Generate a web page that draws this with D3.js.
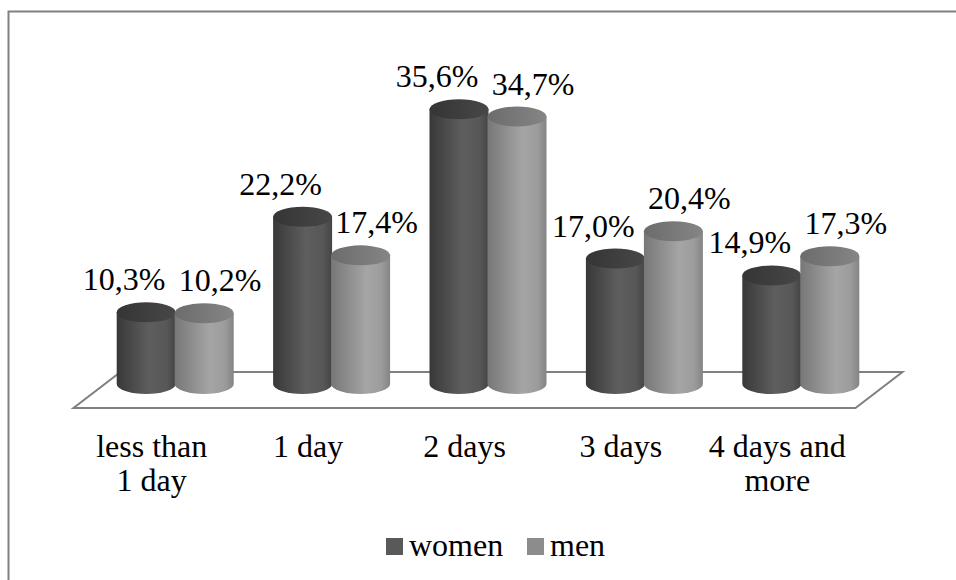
<!DOCTYPE html>
<html>
<head>
<meta charset="utf-8">
<script src="https://cdn.jsdelivr.net/npm/d3@7/dist/d3.min.js"></script>
<style>
  html, body { margin: 0; padding: 0; background: #fff; }
  svg { display: block; }
</style>
</head>
<body>
<svg id="chart" width="956" height="580"></svg>
<script>
// Categories (two-line labels) and the two series, in percent
const categories = [["less than", "1 day"], ["1 day"], ["2 days"], ["3 days"], ["4 days and", "more"]];
const seriesNames = ["women", "men"];
const women = [10.3, 22.2, 35.6, 17.0, 14.9];
const men   = [10.2, 17.4, 34.7, 20.4, 17.3];
const seriesValues = [women, men];

const FONT = "'Liberation Serif', 'Times New Roman', Tinos, 'DejaVu Serif', serif";
const FS = 32;
const svg = d3.select("#chart")
  .attr("font-family", FONT)
  .style("font-family", FONT);

// Outer chart frame (runs past the right and bottom of the view)
svg.append("rect")
  .attr("x", 8.5).attr("y", 11.5)
  .attr("width", 960).attr("height", 600)
  .attr("fill", "#fff").attr("stroke", "#808080").attr("stroke-width", 2);

// Scales
const x = d3.scaleBand().domain(d3.range(categories.length)).range([97, 879]);
const inner = d3.scaleBand().domain(d3.range(seriesNames.length)).range([0, 116]);
const y = d3.scaleLinear().domain([0, 40]).range([395, 74]);

// 3D projection of the floor
const floorFront = 408, floorBack = 372, depthDx = 47;
const [x0, x1] = x.range();
const floorPts = [
  [x0 - depthDx / 2, floorFront], [x1 - depthDx / 2, floorFront],
  [x1 + depthDx / 2, floorBack], [x0 + depthDx / 2, floorBack]
];
svg.append("path")
  .attr("d", "M" + floorPts.map(p => p.join(",")).join("L") + "Z")
  .attr("fill", "#fff").attr("stroke", "#808080").attr("stroke-width", 2)
  .attr("stroke-linejoin", "miter");

// Gradients for the cylinder bodies and tops
const defs = svg.append("defs");
const bodyStops = [
  [["0", "#383838"], ["0.55", "#5e5e5e"], ["0.85", "#575757"], ["1", "#444444"]],
  [["0", "#777777"], ["0.6", "#a5a5a5"], ["0.85", "#9c9c9c"], ["1", "#848484"]]
];
const topStops = [
  [["0", "#353535"], ["1", "#474747"]],
  [["0", "#6c6c6c"], ["1", "#858585"]]
];
bodyStops.forEach((stops, i) => {
  const g = defs.append("linearGradient").attr("id", "body" + i)
    .attr("x1", 0).attr("x2", 1).attr("y1", 0).attr("y2", 0);
  stops.forEach(s => g.append("stop").attr("offset", s[0]).attr("stop-color", s[1]));
});
topStops.forEach((stops, i) => {
  const g = defs.append("linearGradient").attr("id", "top" + i)
    .attr("x1", 0).attr("x2", 1).attr("y1", 0).attr("y2", 0);
  stops.forEach(s => g.append("stop").attr("offset", s[0]).attr("stop-color", s[1]));
});

// Centre of a series' cylinder within its category
const cylX = (ci, si) => x(ci) + x.bandwidth() / 2 - 58 + inner(si) + inner.bandwidth() / 2;

// Cylinders
const r = inner.bandwidth() / 2 + 0.5;
const ry = 10;
const baseY = y(0) - 11;
const cyl = svg.append("g");
categories.forEach((c, ci) => {
  seriesValues.forEach((vals, si) => {
    const cx = cylX(ci, si);
    const yt = y(vals[ci]);
    const g = cyl.append("g");
    g.append("path")
      .attr("d", `M${cx - r},${yt} L${cx - r},${baseY} A${r},${ry} 0 0 0 ${cx + r},${baseY} L${cx + r},${yt} Z`)
      .attr("fill", `url(#body${si})`);
    g.append("ellipse")
      .attr("cx", cx).attr("cy", yt).attr("rx", r).attr("ry", ry)
      .attr("fill", `url(#top${si})`);
  });
});

// Value labels
const labelDx = [-22, 16];
const fmt = v => d3.format(".1f")(v).replace(".", ",") + "%";
categories.forEach((c, ci) => {
  seriesValues.forEach((vals, si) => {
    svg.append("text")
      .attr("x", cylX(ci, si) + labelDx[si])
      .attr("y", y(vals[ci]) - 22)
      .attr("text-anchor", "middle")
      .attr("font-size", FS)
      .attr("fill", "#000")
      .text(fmt(vals[ci]));
  });
});

// Category labels along the floor's front edge
categories.forEach((lines, ci) => {
  const lx = x(ci) + x.bandwidth() / 2 - depthDx / 2;
  const t = svg.append("text")
    .attr("x", lx).attr("y", 457)
    .attr("text-anchor", "middle")
    .attr("font-size", FS)
    .attr("fill", "#000");
  lines.forEach((ln, li) => {
    t.append("tspan").attr("x", lx).attr("dy", li === 0 ? 0 : 34).text(ln);
  });
});

// Legend
const legendColors = ["#595959", "#8c8c8c"];
const legendX = [386, 527];
seriesNames.forEach((name, i) => {
  svg.append("rect")
    .attr("x", legendX[i]).attr("y", 538)
    .attr("width", 17).attr("height", 17)
    .attr("fill", legendColors[i]);
  svg.append("text")
    .attr("x", legendX[i] + 23).attr("y", 556)
    .attr("font-size", FS)
    .attr("fill", "#000")
    .text(name);
});
</script>
</body>
</html>
